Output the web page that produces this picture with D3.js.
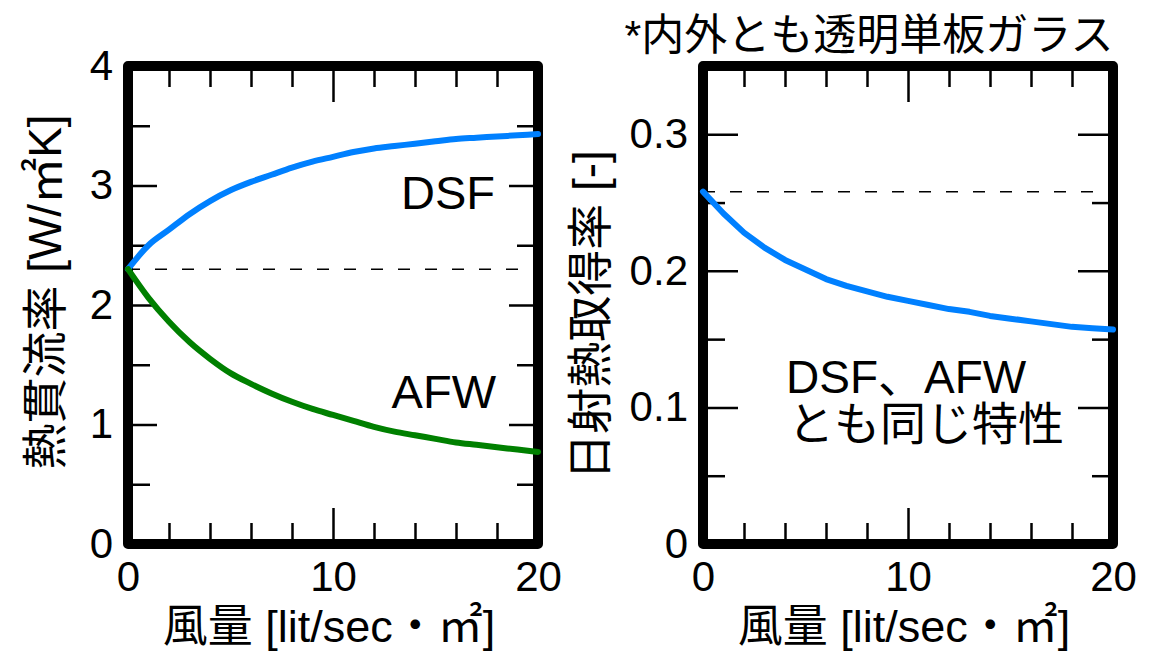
<!DOCTYPE html>
<html><head><meta charset="utf-8">
<script src="https://cdn.jsdelivr.net/npm/d3@7"></script>
<style>
html,body{margin:0;padding:0;background:#fff;}
svg{display:block;}
text{font-family:"Liberation Sans",Arial,"Noto Sans CJK JP",sans-serif;fill:#000;}
</style></head>
<body>
<svg id="chart" width="1157" height="654"></svg>
<script>
// ---- data ----
const flowRate = [0,1,2,3,4,5,6,7,8,9,10,11,12,13,14,15,16,17,18,19,20];
const uDSF = [2.30,2.50,2.63,2.76,2.87,2.96,3.03,3.09,3.15,3.20,3.24,3.28,3.31,3.33,3.35,3.37,3.39,3.40,3.41,3.42,3.43];
const uAFW = [2.30,2.06,1.86,1.69,1.55,1.43,1.34,1.26,1.19,1.13,1.08,1.03,0.98,0.94,0.91,0.88,0.85,0.83,0.81,0.79,0.77];
const shgc = [0.258,0.242,0.228,0.217,0.208,0.201,0.194,0.189,0.185,0.181,0.178,0.175,0.172,0.170,0.167,0.165,0.163,0.161,0.159,0.158,0.157];
const uReference = 2.3;
const shgcReference = 0.258;
const xMajorTicks = [0,10,20];
const xMinorTicks = [2,4,6,8,12,14,16,18];
const uMajorTicks = [0,1,2,3,4];
const uMinorTicks = [0.5,1.5,2.5,3.5];
const sMajorTicks = [0,0.1,0.2,0.3];
const sMinorTicks = [0.05,0.15,0.25];
const xTitle = "風量 [lit/sec・㎡]";
const uTitle = "熱貫流率 [W/㎡K]";
const sTitle = "日射熱取得率 [-]";
const note = "*内外とも透明単板ガラス";
const labelDSF = "DSF", labelAFW = "AFW";
const noteRight = ["DSF、AFW", "とも同じ特性"];

const svg = d3.select("#chart");
const plotTop = 66, plotBottom = 544;

function panel(x0, x1, yDomain, majorY, minorY, yFmt, yMajLen) {
  const g = svg.append("g");
  const x = d3.scaleLinear().domain([0,20]).range([x0,x1]);
  const y = d3.scaleLinear().domain(yDomain).range([plotBottom, plotTop]);
  g.append("rect").attr("x",x0).attr("y",plotTop).attr("width",x1-x0).attr("height",plotBottom-plotTop)
    .attr("fill","none").attr("stroke","#000").attr("stroke-width",10).attr("stroke-linejoin","round");
  const style = sel => {
    sel.select(".domain").remove();
    sel.selectAll(".tick line").attr("stroke","#000").attr("stroke-width",2.5);
    sel.attr("font-family",null).attr("font-size",null);
    sel.selectAll("text").style("font-size","42px");
  };
  g.append("g").attr("transform",`translate(${x0},0)`)
    .call(d3.axisLeft(y).tickValues(majorY).tickSize(-yMajLen).tickPadding(15).tickFormat(yFmt)).call(style);
  g.append("g").attr("transform",`translate(${x0},0)`)
    .call(d3.axisLeft(y).tickValues(minorY).tickSize(-22).tickFormat("")).call(style);
  g.append("g").attr("transform",`translate(${x1},0)`)
    .call(d3.axisRight(y).tickValues(majorY.filter(v=>v>yDomain[0]&&v<yDomain[1])).tickSize(-yMajLen).tickFormat("")).call(style);
  g.append("g").attr("transform",`translate(${x1},0)`)
    .call(d3.axisRight(y).tickValues(minorY).tickSize(-21).tickFormat("")).call(style);
  g.append("g").attr("transform",`translate(0,${plotBottom})`)
    .call(d3.axisBottom(x).tickValues(xMajorTicks).tickSize(-36).tickPadding(17).tickFormat(d3.format("d"))).call(style);
  g.append("g").attr("transform",`translate(0,${plotBottom})`)
    .call(d3.axisBottom(x).tickValues(xMinorTicks).tickSize(-21).tickFormat("")).call(style);
  g.append("g").attr("transform",`translate(0,${plotTop})`)
    .call(d3.axisTop(x).tickValues([10]).tickSize(-36).tickFormat("")).call(style);
  g.append("g").attr("transform",`translate(0,${plotTop})`)
    .call(d3.axisTop(x).tickValues(xMinorTicks).tickSize(-21).tickFormat("")).call(style);
  g.append("text").attr("x",(x0+x1)/2 - 4).attr("y",642).attr("text-anchor","middle")
    .style("font-size","45px").text(xTitle);
  return {g,x,y};
}

const L = panel(128, 538, [0,4], uMajorTicks, uMinorTicks, d3.format("d"), 29);
L.g.append("line").attr("x1",L.x(0)).attr("x2",L.x(20)).attr("y1",L.y(uReference)).attr("y2",L.y(uReference))
  .attr("stroke","#000").attr("stroke-width",1.5).attr("stroke-dasharray","12,15");
const lineL = d3.line().x((d,i)=>L.x(flowRate[i])).y(d=>L.y(d)).curve(d3.curveMonotoneX);
L.g.append("path").attr("d",lineL(uDSF)).attr("fill","none").attr("stroke","#0080ff").attr("stroke-width",6).attr("stroke-linecap","round");
L.g.append("path").attr("d",lineL(uAFW)).attr("fill","none").attr("stroke","#008000").attr("stroke-width",6).attr("stroke-linecap","round");
L.g.append("text").attr("x",495).attr("y",209).attr("text-anchor","end").style("font-size","47px").text(labelDSF);
L.g.append("text").attr("x",496).attr("y",408).attr("text-anchor","end").style("font-size","47px").text(labelAFW);
L.g.append("text").attr("transform","translate(45,292) rotate(-90)").attr("text-anchor","middle")
  .attr("dominant-baseline","central").style("font-size","46px").text(uTitle);

const R = panel(703, 1113, [0,0.35], sMajorTicks, sMinorTicks, d=> d===0?"0":d3.format(".1f")(d), 35);
R.g.append("line").attr("x1",R.x(0)).attr("x2",R.x(20)).attr("y1",R.y(shgcReference)).attr("y2",R.y(shgcReference))
  .attr("stroke","#000").attr("stroke-width",1.5).attr("stroke-dasharray","12,15");
const lineR = d3.line().x((d,i)=>R.x(flowRate[i])).y(d=>R.y(d));
R.g.append("path").attr("d",lineR(shgc)).attr("fill","none").attr("stroke","#0080ff").attr("stroke-width",6).attr("stroke-linecap","round").attr("stroke-linejoin","round");
R.g.append("text").attr("x",786).attr("y",393).style("font-size","46px").text(noteRight[0]);
R.g.append("text").attr("x",788).attr("y",440).style("font-size","46px").text(noteRight[1]);
R.g.append("text").attr("transform","translate(590,315) rotate(-90)").attr("text-anchor","middle")
  .attr("dominant-baseline","central").style("font-size","46px").text(sTitle);

svg.append("text").attr("x",869).attr("y",50).attr("text-anchor","middle").style("font-size","43px").text(note);
</script>
</body></html>
